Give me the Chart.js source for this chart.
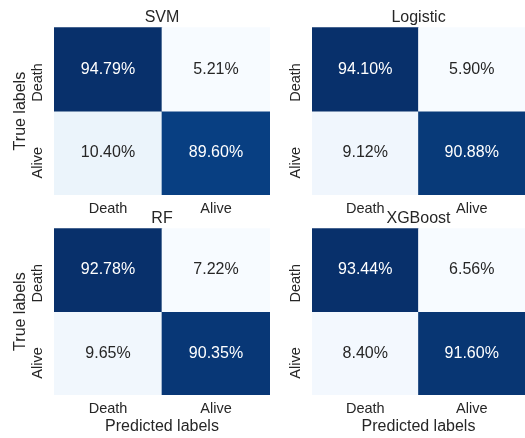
<!DOCTYPE html>
<html>
<head>
<meta charset="utf-8">
<script src="https://cdn.jsdelivr.net/npm/chart.js@4.4.1/dist/chart.umd.min.js"></script>
<style>
  body { margin: 0; background: #fff; }
  #wrap { position: relative; width: 525px; height: 438px; overflow: hidden; }
  canvas { position: absolute; }
</style>
</head>
<body>
<div id="wrap">
  <canvas id="svm" width="272" height="222" style="left:0;top:0"></canvas>
  <canvas id="logistic" width="265" height="222" style="left:260px;top:0"></canvas>
  <canvas id="rf" width="272" height="237" style="left:0;top:201px"></canvas>
  <canvas id="xgboost" width="265" height="237" style="left:260px;top:201px"></canvas>
</div>
<script>
// labels of the confusion matrices
const predictedLabels = ['Death', 'Alive'];
const trueLabels = ['Death', 'Alive'];

// rows = true label, columns = predicted label (percent)
const svmValues = [[94.79, 5.21], [10.40, 89.60]];
const logisticValues = [[94.10, 5.90], [9.12, 90.88]];
const rfValues = [[92.78, 7.22], [9.65, 90.35]];
const xgboostValues = [[93.44, 6.56], [8.40, 91.60]];

const FONT = '"Liberation Sans", Arial, sans-serif';
const TEXT_COLOR = '#262626';

// matplotlib "Blues" colormap
const bluesStops = ['#f7fbff', '#deebf7', '#c6dbef', '#9ecae1', '#6baed6', '#4292c6', '#2171b5', '#08519c', '#08306b'];

function hexToRgb(h) {
    return [parseInt(h.substr(1, 2), 16), parseInt(h.substr(3, 2), 16), parseInt(h.substr(5, 2), 16)];
}

function blues(t) {
    t = Math.max(0, Math.min(1, t));
    let pos = t * (bluesStops.length - 1);
    let i = Math.min(Math.floor(pos), bluesStops.length - 2);
    let f = pos - i;
    let a = hexToRgb(bluesStops[i]);
    let b = hexToRgb(bluesStops[i + 1]);
    return a.map((v, k) => Math.round(v + (b[k] - v) * f));
}

// white text on dark cells, like seaborn annot
function textColorFor(rgb) {
    let lin = rgb.map(c => {
        c = c / 255;
        return c <= 0.03928 ? c / 12.92 : Math.pow((c + 0.055) / 1.055, 2.4);
    });
    let lum = 0.2126 * lin[0] + 0.7152 * lin[1] + 0.0722 * lin[2];
    return lum > 0.408 ? TEXT_COLOR : '#ffffff';
}

/**
 * Draw the percent text in the middle of every cell
 */
const cellTextPlugin = {
    id: 'cellText',
    afterDatasetsDraw(chart) {
        let ctx = chart.ctx;
        ctx.save();
        ctx.font = '16px ' + FONT;
        ctx.textAlign = 'center';
        ctx.textBaseline = 'middle';
        chart.data.datasets.forEach((ds, i) => {
            chart.getDatasetMeta(i).data.forEach((bar, j) => {
                ctx.fillStyle = ds.textColors[j];
                ctx.fillText(ds.values[j].toFixed(2) + '%', bar.x, (bar.y + bar.base) / 2);
            });
        });
        ctx.restore();
    }
};

/**
 * Rotated tick labels of the true labels (left of every row)
 */
const rowLabelPlugin = {
    id: 'rowLabels',
    afterDraw(chart) {
        let ctx = chart.ctx;
        let left = chart.chartArea.left;
        ctx.save();
        ctx.font = '14.5px ' + FONT;
        ctx.fillStyle = TEXT_COLOR;
        ctx.textAlign = 'right';
        ctx.textBaseline = 'middle';
        chart.data.datasets.forEach((ds, i) => {
            let bar = chart.getDatasetMeta(i).data[0];
            let cy = (bar.y + bar.base) / 2;
            ctx.save();
            ctx.translate(left - 16, cy - 6);
            ctx.rotate(-Math.PI / 2);
            ctx.fillText(ds.label, 0, 0);
            ctx.restore();
        });
        ctx.restore();
    }
};

function makeMatrix(id, title, values, opts) {
    let all = values.flat();
    let vmin = Math.min(...all);
    let vmax = Math.max(...all);

    let datasets = trueLabels.map((label, r) => {
        let rgbs = values[r].map(v => blues((v - vmin) / (vmax - vmin)));
        return {
            label: label,
            data: predictedLabels.map(() => 1),  // one unit per cell
            values: values[r],
            backgroundColor: rgbs.map(c => 'rgb(' + c.join(',') + ')'),
            textColors: rgbs.map(textColorFor),
            borderWidth: 0,
            barPercentage: 1,
            categoryPercentage: 1
        };
    });

    let ctx = document.getElementById(id).getContext('2d');
    return new Chart(ctx, {
        type: 'bar',
        data: {
            labels: predictedLabels,
            datasets: datasets
        },
        options: {
            responsive: false,
            animation: false,
            layout: { padding: { left: 0, right: opts.padRight, top: 0, bottom: 0 } },
            plugins: {
                legend: { display: false },
                tooltip: { enabled: false },
                title: {
                    display: true,
                    text: title,
                    fullSize: false,
                    color: TEXT_COLOR,
                    font: { size: 16, weight: 'normal', family: FONT },
                    padding: { top: 8, bottom: 0 }
                }
            },
            scales: {
                x: {
                    stacked: true,
                    grid: { display: false, drawTicks: false },
                    border: { display: false },
                    ticks: { color: TEXT_COLOR, font: { size: 14.5, family: FONT }, padding: 5 },
                    title: {
                        display: opts.xTitle,
                        text: 'Predicted labels',
                        color: TEXT_COLOR,
                        font: { size: 16, family: FONT },
                        padding: { top: 0, bottom: 2 }
                    },
                    afterFit: function (scale) { scale.height = opts.xHeight; }
                },
                y: {
                    stacked: true,
                    reverse: true,
                    min: 0,
                    max: trueLabels.length,
                    grid: { display: false, drawTicks: false },
                    border: { display: false },
                    ticks: { display: false },
                    title: {
                        display: opts.yTitle,
                        text: 'True labels',
                        color: TEXT_COLOR,
                        font: { size: 16, family: FONT },
                        padding: { top: 11, bottom: 0 }
                    },
                    afterFit: function (scale) { scale.width = opts.yWidth; }
                }
            }
        },
        plugins: [cellTextPlugin, rowLabelPlugin]
    });
}

makeMatrix('svm', 'SVM', svmValues, { yTitle: true, xTitle: false, yWidth: 54, xHeight: 27, padRight: 2 });
makeMatrix('logistic', 'Logistic', logisticValues, { yTitle: false, xTitle: false, yWidth: 52, xHeight: 27, padRight: 0 });
makeMatrix('rf', 'RF', rfValues, { yTitle: true, xTitle: true, yWidth: 54, xHeight: 43, padRight: 2 });
makeMatrix('xgboost', 'XGBoost', xgboostValues, { yTitle: false, xTitle: true, yWidth: 52, xHeight: 43, padRight: 0 });
</script>
</body>
</html>
